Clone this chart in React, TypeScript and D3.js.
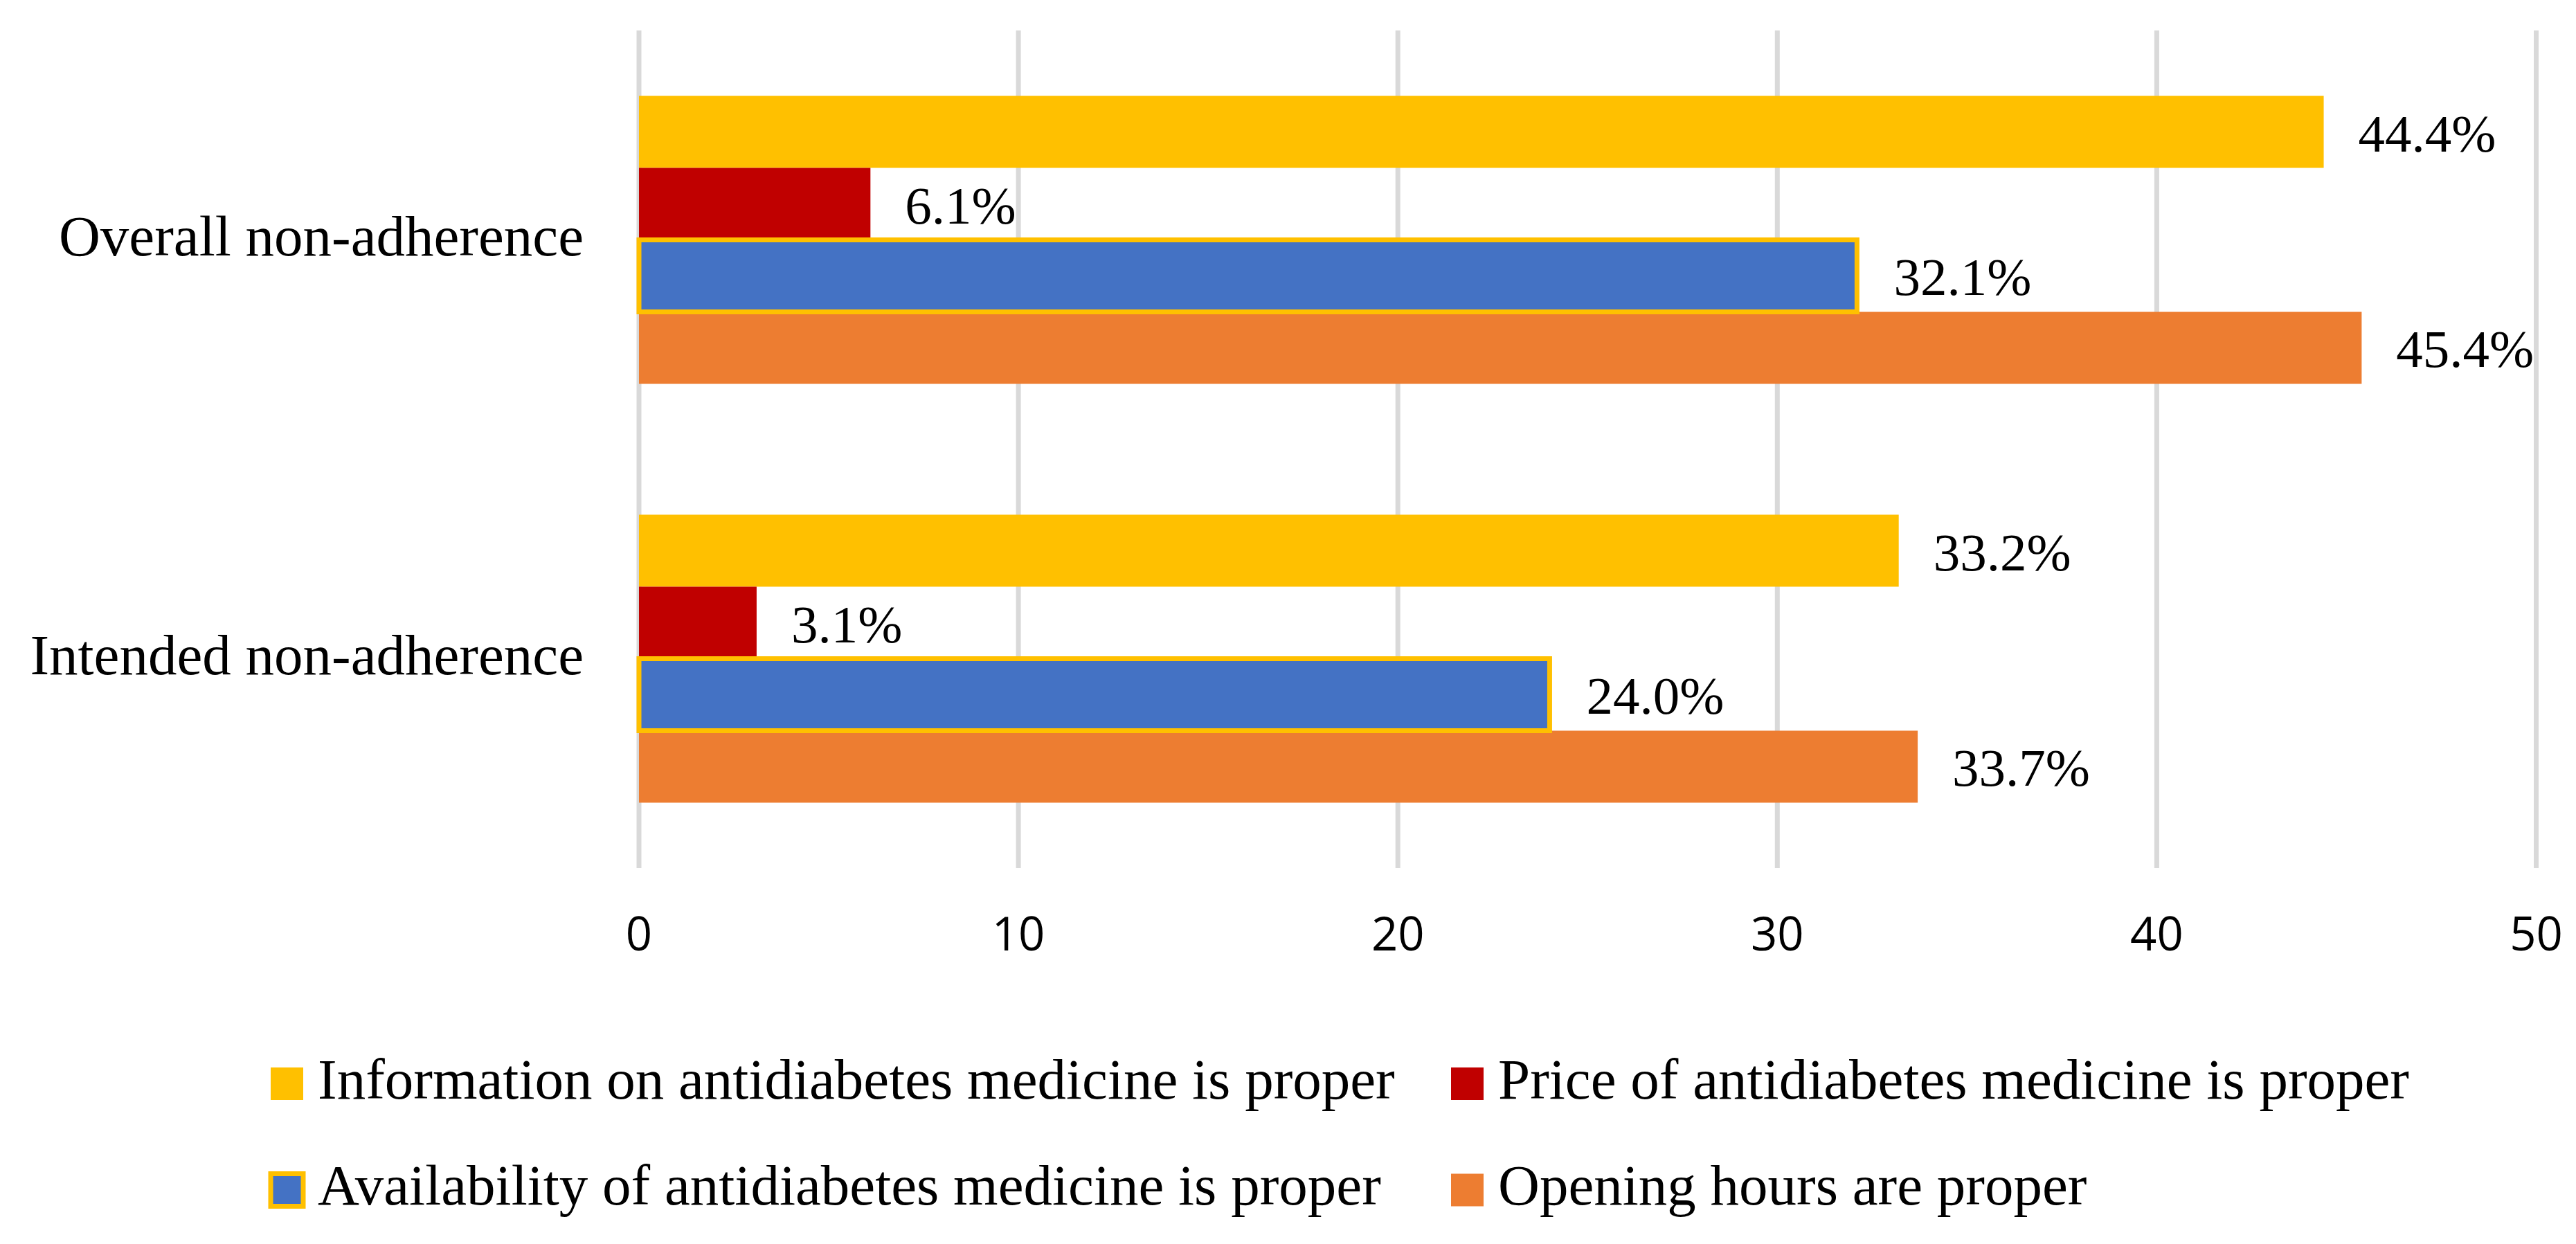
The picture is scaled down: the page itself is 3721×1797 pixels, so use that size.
import React from "react";
import * as d3 from "d3";

// Values
const categories = ["Overall non-adherence", "Intended non-adherence"];
const seriesNames = [
  "Information on antidiabetes medicine is proper",
  "Price of antidiabetes medicine is proper",
  "Availability of antidiabetes medicine is proper",
  "Opening hours are proper",
];
const informationValues = [44.4, 33.2];
const priceValues = [6.1, 3.1];
const availabilityValues = [32.1, 24.0];
const openingValues = [45.4, 33.7];
const xTicks = [0, 10, 20, 30, 40, 50];

const seriesValues = [informationValues, priceValues, availabilityValues, openingValues];
const colors = ["#FFC000", "#C00000", "#4472C4", "#ED7D31"];
const outlined = [false, false, true, false]; // availability bar has a yellow outline

const width = 3721;
const height = 1797;
const serif = "'Liberation Serif', 'Times New Roman', serif";
const sans = "'Open Sans', 'Noto Sans', sans-serif";

const App: React.FC = () => {
  const plot = { left: 923, right: 3663.5, top: 44, bottom: 1254 };

  const x = d3.scaleLinear().domain([0, 50]).range([plot.left, plot.right]);

  const y = d3
    .scaleBand<string>()
    .domain(categories)
    .range([plot.top, plot.bottom])
    .paddingInner(0.3124)
    .paddingOuter(0.1562);

  const inner = d3
    .scaleBand<string>()
    .domain(seriesNames)
    .range([0, y.bandwidth()]);

  const fmt = (v: number) => `${d3.format(".1f")(v)}%`;

  // draw outlined series last so its border sits over neighbours
  const drawOrder = [0, 1, 3, 2];

  const legendCols = [391, 2096];
  const legendRows = [1565.5, 1719];
  const sw = 47;

  return (
    <svg
      width={width}
      height={height}
      style={{ position: "absolute", left: 0, top: 0, display: "block", background: "#fff" }}
    >
      {/* gridlines */}
      {xTicks.map((t) => (
        <line
          key={`g-${t}`}
          x1={x(t)}
          x2={x(t)}
          y1={plot.top}
          y2={plot.bottom}
          stroke="#D9D9D9"
          strokeWidth={7}
        />
      ))}

      {/* x tick labels */}
      {xTicks.map((t) => (
        <text
          key={`t-${t}`}
          x={x(t)}
          y={1373}
          textAnchor="middle"
          fontFamily={sans}
          fontSize={67}
          fill="#000"
        >
          {t}
        </text>
      ))}

      {/* bars */}
      {categories.map((cat, ci) => {
        const y0 = y(cat) ?? 0;
        return (
          <g key={cat}>
            {drawOrder.map((si) => {
              const v = seriesValues[si][ci];
              const by = y0 + (inner(seriesNames[si]) ?? 0);
              const bh = inner.bandwidth();
              return (
                <rect
                  key={si}
                  x={x(0)}
                  y={by}
                  width={x(v) - x(0)}
                  height={bh}
                  fill={colors[si]}
                  stroke={outlined[si] ? "#FFC000" : "none"}
                  strokeWidth={outlined[si] ? 7 : 0}
                />
              );
            })}
            {seriesNames.map((name, si) => {
              const v = seriesValues[si][ci];
              const cy = y0 + (inner(name) ?? 0) + inner.bandwidth() / 2;
              return (
                <text
                  key={`l-${si}`}
                  x={x(v) + (outlined[si] ? 53 : 50)}
                  y={cy + 28}
                  fontFamily={serif}
                  fontSize={77}
                  fill="#000"
                >
                  {fmt(v)}
                </text>
              );
            })}
            <text
              x={843}
              y={y0 + y.bandwidth() / 2 + 22}
              textAnchor="end"
              fontFamily={serif}
              fontSize={83}
              fill="#000"
            >
              {cat}
            </text>
          </g>
        );
      })}

      {/* legend */}
      {seriesNames.map((name, si) => {
        const lx = legendCols[si % 2];
        const ly = legendRows[Math.floor(si / 2)];
        return (
          <g key={`leg-${si}`}>
            <rect
              x={lx}
              y={ly - sw / 2}
              width={sw}
              height={sw}
              fill={colors[si]}
              stroke={outlined[si] ? "#FFC000" : "none"}
              strokeWidth={outlined[si] ? 7 : 0}
            />
            <text
              x={lx + sw + 21}
              y={ly + 21}
              fontFamily={serif}
              fontSize={83}
              fill="#000"
            >
              {name}
            </text>
          </g>
        );
      })}
    </svg>
  );
};

export default App;
